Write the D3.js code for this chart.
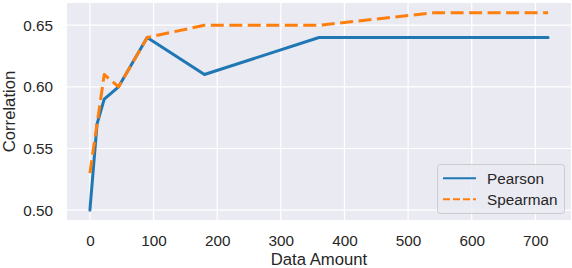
<!DOCTYPE html>
<html>
<head>
<meta charset="utf-8">
<script src="https://cdn.jsdelivr.net/npm/d3@7"></script>
<style>
  html, body { margin: 0; padding: 0; background: #fff; }
  svg { display: block; font-family: "Liberation Sans", Arial, Helvetica, sans-serif; }
</style>
</head>
<body>
<svg id="chart" width="572" height="268"></svg>
<script>
// data
const dataAmount = [0, 11.25, 22.5, 45, 90, 180, 360, 540, 720];
const pearson    = [0.50, 0.57, 0.59, 0.60, 0.64, 0.61, 0.64, 0.64, 0.64];
const spearman   = [0.53, 0.57, 0.61, 0.60, 0.64, 0.65, 0.65, 0.66, 0.66];
const xTicks = [0, 100, 200, 300, 400, 500, 600, 700];
const yTicks = [0.50, 0.55, 0.60, 0.65];
const seriesNames = ["Pearson", "Spearman"];

const width = 572, height = 268;
const margin = {top: 3, right: 1, bottom: 48, left: 67};
const textColor = "#262626";

const svg = d3.select("#chart");

const x = d3.scaleLinear()
    .domain([-36, 756])
    .range([margin.left, width - margin.right]);
const y = d3.scaleLinear()
    .domain([0.492, 0.668])
    .range([height - margin.bottom, margin.top]);

// background
svg.append("rect")
    .attr("x", margin.left)
    .attr("y", margin.top)
    .attr("width", width - margin.left - margin.right)
    .attr("height", height - margin.top - margin.bottom)
    .attr("fill", "#eaeaf2");

// grid
const grid = svg.append("g");
grid.selectAll("line.gx")
    .data(xTicks)
    .enter().append("line")
    .attr("x1", d => x(d)).attr("x2", d => x(d))
    .attr("y1", margin.top).attr("y2", height - margin.bottom)
    .attr("stroke", "#fff").attr("stroke-width", 1.2);
grid.selectAll("line.gy")
    .data(yTicks)
    .enter().append("line")
    .attr("x1", margin.left).attr("x2", width - margin.right)
    .attr("y1", d => y(d)).attr("y2", d => y(d))
    .attr("stroke", "#fff").attr("stroke-width", 1.2);

// axes (no domain line, no tick marks — seaborn darkgrid)
const xAxis = svg.append("g")
    .attr("transform", `translate(0,${height - margin.bottom})`)
    .call(d3.axisBottom(x).tickValues(xTicks).tickSize(0).tickPadding(15).tickFormat(d3.format("d")));
const yAxis = svg.append("g")
    .attr("transform", `translate(${margin.left},0)`)
    .call(d3.axisLeft(y).tickValues(yTicks).tickSize(0).tickPadding(14).tickFormat(d3.format(".2f")));
[xAxis, yAxis].forEach(a => {
    a.select(".domain").remove();
    a.selectAll("text")
        .attr("fill", textColor)
        .style("font-size", "15.3px")
        .style("font-family", "\"Liberation Sans\", Arial, sans-serif");
});

// axis labels
svg.append("text")
    .attr("x", (margin.left + width - margin.right) / 2)
    .attr("y", 265)
    .attr("text-anchor", "middle")
    .attr("fill", textColor)
    .style("font-size", "16.7px")
    .text("Data Amount");
svg.append("text")
    .attr("transform", `translate(15,${(margin.top + height - margin.bottom) / 2}) rotate(-90)`)
    .attr("text-anchor", "middle")
    .attr("fill", textColor)
    .style("font-size", "16.7px")
    .text("Correlation");

// lines
const line = d3.line()
    .x((d, i) => x(dataAmount[i]))
    .y(d => y(d));

const series = [
    {name: seriesNames[0], values: pearson, color: "#1f77b4", dash: null},
    {name: seriesNames[1], values: spearman, color: "#ff7f0e", dash: "13,5.5"}
];

series.forEach(s => {
    svg.append("path")
        .attr("d", line(s.values))
        .attr("fill", "none")
        .attr("stroke", s.color)
        .attr("stroke-width", 3)
        .attr("stroke-linejoin", "round")
        .attr("stroke-linecap", s.dash ? "butt" : "round")
        .attr("stroke-dasharray", s.dash);
});

// legend
const legend = svg.append("g").attr("transform", "translate(437,164)");
legend.append("rect")
    .attr("x", 0.5).attr("y", 0.5)
    .attr("width", 127).attr("height", 49)
    .attr("rx", 3)
    .attr("fill", "#eaeaf2").attr("fill-opacity", 0.8)
    .attr("stroke", "#cccccc").attr("stroke-width", 1);

const rows = legend.selectAll("g.row")
    .data(series)
    .enter().append("g")
    .attr("transform", (d, i) => `translate(0,${14.3 + i * 21})`);
rows.append("line")
    .attr("x1", 6).attr("x2", 39)
    .attr("y1", 0).attr("y2", 0)
    .attr("stroke", d => d.color)
    .attr("stroke-width", 2)
    .attr("stroke-dasharray", d => d.dash ? "7,3" : null);
rows.append("text")
    .attr("x", 50)
    .attr("y", 5.5)
    .attr("fill", textColor)
    .style("font-size", "15.3px")
    .text(d => d.name);
</script>
</body>
</html>
